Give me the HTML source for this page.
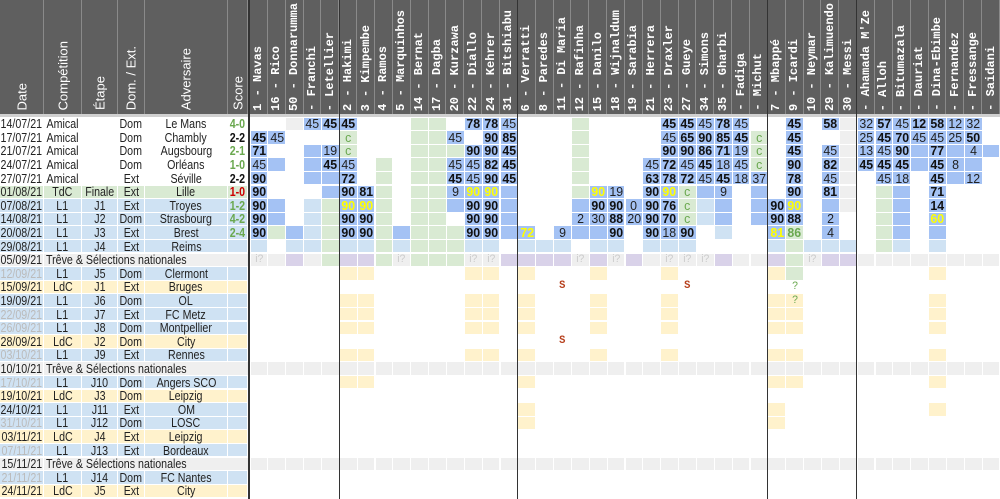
<!DOCTYPE html>
<html><head><meta charset="utf-8"><style>
html,body{margin:0;padding:0;background:#fff;width:1000px;height:499px;overflow:hidden;position:relative;font-family:"Liberation Sans",sans-serif;}
.c{position:absolute;box-sizing:border-box;font-size:13px;line-height:13px;text-align:center;color:#222;white-space:nowrap;overflow:visible;display:flex;align-items:center;justify-content:center;}
.c span{display:inline-block;transform:scaleX(0.82);transform-origin:center;}
.c.p span{transform:scaleX(0.95);}
.c.lft{justify-content:flex-start;}
.c.lft span{transform-origin:left center;}
.h{position:absolute;top:0;height:114px;background:#5f5f5f;box-sizing:border-box;border-right:1px solid #8a8a8a;}
.ht{position:absolute;bottom:4px;left:50%;writing-mode:vertical-rl;transform:translateX(-50%) rotate(180deg);color:#fff;white-space:nowrap;}
.v{position:absolute;top:0;height:499px;background:#333;}
</style></head><body>
<div id="root"></div>
<script>
var R=document.getElementById('root');
function el(cls,st,txt){var d=document.createElement('div');d.className=cls;d.style.cssText=st;if(txt!=null&&txt!==''){var s=document.createElement('span');s.textContent=txt;d.appendChild(s);}R.appendChild(d);return d;}
var LX=[0,44,82,118,145,228,248];
var LH=['Date','Compétition','Étape','Dom. / Ext.','Adversaire','Score'];
for(var i=0;i<6;i++){var h=el('h','left:'+LX[i]+'px;width:'+(LX[i+1]-LX[i])+'px;');var t=document.createElement('div');t.className='ht';t.style.cssText='font-size:13px;font-family:"Liberation Sans",sans-serif;';t.textContent=LH[i];h.appendChild(t);}
el('h','left:248px;width:2px;');
var P=['1 - Navas','16 - Rico','50 - Donnarumma','- Franchi','- Letellier','2 - Hakimi','3 - Kimpembe','4 - Ramos','5 - Marquinhos','14 - Bernat','17 - Dagba','20 - Kurzawa','22 - Diallo','24 - Kehrer','31 - Bitshiabu','6 - Verratti','8 - Paredes','11 - Di Maria','12 - Rafinha','15 - Danilo','18 - Wijnaldum','19 - Sarabia','21 - Herrera','23 - Draxler','27 - Gueye','34 - Simons','35 - Gharbi','- Fadiga','- Michut','7 - Mbappé','9 - Icardi','10 - Neymar','29 - Kalimuendo','30 - Messi','- Ahamada M\'Ze','- Alloh','- Bitumazala','- Dauriat','- Dina-Ebimbe','- Fernandez','- Fressange','- Saidani'];
var CW=750/42;function cx(i){return 250+i*CW;}
for(var i=0;i<42;i++){var h=el('h','left:'+cx(i)+'px;width:'+CW+'px;');var t=document.createElement('div');t.className='ht';t.style.cssText='font-size:12px;font-weight:bold;font-family:"Liberation Mono",monospace;bottom:3px;';t.textContent=P[i];h.appendChild(t);}
el('c','left:0;top:114px;width:1000px;height:3px;background:#d0d0d0;');
var RT=117.5,RH=13.6;
var L=[
['14/07/21','Amical','','Dom','Le Mans','4-0','#6aa84f','W',0],
['17/07/21','Amical','','Dom','Chambly','2-2','#111','W',0],
['21/07/21','Amical','','Dom','Augsbourg','2-1','#6aa84f','W',0],
['24/07/21','Amical','','Dom','Orléans','1-0','#6aa84f','W',0],
['27/07/21','Amical','','Ext','Séville','2-2','#111','W',0],
['01/08/21','TdC','Finale','Ext','Lille','1-0','#cc0000','G',0],
['07/08/21','L1','J1','Ext','Troyes','1-2','#6aa84f','L',0],
['14/08/21','L1','J2','Dom','Strasbourg','4-2','#6aa84f','L',0],
['20/08/21','L1','J3','Ext','Brest','2-4','#6aa84f','L',0],
['29/08/21','L1','J4','Ext','Reims','','','L',0],
['05/09/21','T','','','','','','E',0],
['12/09/21','L1','J5','Dom','Clermont','','','L',1],
['15/09/21','LdC','J1','Ext','Bruges','','','Y',0],
['19/09/21','L1','J6','Dom','OL','','','L',0],
['22/09/21','L1','J7','Ext','FC Metz','','','L',1],
['26/09/21','L1','J8','Dom','Montpellier','','','L',1],
['28/09/21','LdC','J2','Dom','City','','','Y',0],
['03/10/21','L1','J9','Ext','Rennes','','','L',1],
['10/10/21','T','','','','','','E',0],
['17/10/21','L1','J10','Dom','Angers SCO','','','L',1],
['19/10/21','LdC','J3','Dom','Leipzig','','','Y',0],
['24/10/21','L1','J11','Ext','OM','','','L',0],
['31/10/21','L1','J12','Dom','LOSC','','','L',1],
['03/11/21','LdC','J4','Ext','Leipzig','','','Y',0],
['07/11/21','L1','J13','Ext','Bordeaux','','','L',1],
['15/11/21','T','','','','','','E',0],
['21/11/21','L1','J14','Dom','FC Nantes','','','L',1],
['24/11/21','LdC','J5','Ext','City','','','Y',0]];
var BG={W:'#fff',G:'#d9ead3',L:'#cfe2f3',E:'#efefef',Y:'#fff2cc',B:'#a4c2f4',P:'#d9d2e9',C:'#d9ead3',Q:'#d9ead3',S:'#fff'};
for(var r=0;r<L.length;r++){var d=L[r],y=RT+r*RH,bg=BG[d[7]];
 if(d[1]=='T'){el('c','left:0;top:'+y+'px;width:43px;height:'+(RH-1)+'px;background:'+bg,d[0]);
  el('c lft','left:44px;top:'+y+'px;width:204px;height:'+(RH-1)+'px;background:'+bg+';padding-left:2px;','Trêve & Sélections nationales');continue;}
 var vals=[d[0],d[1],d[2],d[3],d[4],d[5]];
 for(var i=0;i<6;i++){var st='left:'+LX[i]+'px;top:'+y+'px;width:'+(LX[i+1]-LX[i]-1)+'px;height:'+(RH-1)+'px;background:'+bg+';';
  if(i==0&&d[8])st+='color:#bbb;';
  if(i==5)st+='font-weight:bold;color:'+d[6]+';';
  el('c',st,vals[i]);}
}
var G=[
'W,W,E,B45,B*45,B*45,W,W,W,G,G,W,B*78,B*78,B45,W,W,W,G,W,W,W,W,B*45,B*45,B45,B*78,B45,W,W,B*45,W,B*58,E,B32,B*57,B45,B*12,B*58,B12,B32,W',
'B*45,B45,W,W,W,C,W,W,W,G,G,B45,W,B*90,B*85,W,W,W,G,W,W,W,W,B45,B*65,B*90,B*85,B*45,C,W,B*45,W,W,E,B25,B*45,B*70,B45,B45,B25,B*50,W',
'B*71,W,W,B,B19,C,W,W,W,G,G,G,B*90,B*90,B*45,W,W,W,G,W,W,W,W,B*90,B*90,B*86,B*71,B19,C,W,B*45,W,B45,E,B13,B45,B*90,B,B*77,B,B4,B',
'B45,B,W,B,B*45,B45,W,G,W,G,G,B45,B45,B*82,B*45,W,W,W,G,W,W,W,B45,B*72,B45,B*45,B18,B45,C,W,B*90,W,B*82,E,B*45,B*45,B*45,B,B*45,B8,B,W',
'B*90,W,W,B,B,B*72,W,G,W,G,G,B*45,B45,B*90,B*45,W,W,W,G,W,W,W,B*63,B*78,B*72,B45,B*45,B18,B37,W,B*78,W,B45,E,W,B45,B18,W,B*45,B,B12,W',
'B*90,W,W,W,B,B*90,B*81,G,W,G,G,B9,B^90,B^90,B,W,W,W,G,B^90,B19,W,B*90,B^90,C,B,B9,W,B,W,B*90,W,B*81,E,W,G,B,W,B*71,W,W,W',
'B*90,B,W,L,G,B^90,B^90,G,W,G,G,B,B*90,B*90,B,W,W,W,B,B*90,B*90,B0,B*90,B*76,C,L,B,W,B,B*90,B^90,W,B,E,W,G,B,W,B*14,W,W,W',
'B*90,B,W,L,G,B*90,B*90,G,W,G,G,W,B*90,B*90,B,W,W,W,B2,B30,B*88,B20,B*90,B*70,C,L,B,W,B,B*90,B*88,W,B2,W,W,G,B,W,B^60,W,W,W',
'B*90,G,B,L,G,B*90,B*90,G,B,G,G,G,B*90,B*90,B,B^72,W,B9,B,B,B*90,W,B*90,B18,B*90,W,L,W,W,B^81,Q86,W,B4,W,W,G,B,W,B,W,W,W',
'L,W,L,L,G,L,L,G,L,G,G,G,L,L,W,L,L,L,W,L,L,W,L,L,L,W,W,W,W,L,G,L,L,L,W,G,L,W,L,W,W,W',
'E~,E,P,E,G,P,P,G,E~,G,G,G,E~,E~,P,P,P,P,E~,P,E~,P,E,E~,E~,E~,P,E,E,P,G,E~,P,P,E,E,E,E,E,E,E,E'];
function blank(){var a=[];for(var i=0;i<42;i++)a.push('W');return a;}
function ys(idx,extra){var a=blank();idx.forEach(function(i){a[i]='Y';});if(extra)for(var k in extra)a[k]=extra[k];return a.join(',');}
var full=[5,6,12,13,15,19,23,29,30,38];
G[11]=ys([5,6,12,13,15,19,23,29,38],{30:'G'});
G[12]=ys([],{17:'SS',24:'SS',30:'W?'});
G[13]=ys(full,{30:'Y?'});
G[14]=ys(full);G[15]=ys(full);
G[16]=ys([],{17:'SS'});
G[17]=ys(full);
var ge=[];for(var i=0;i<42;i++)ge.push('E');ge=ge.join(',');
G[18]=ge;G[19]=ys([5,6,15,29,30,38]);G[20]=ys([]);G[21]=ys([15,29,38]);G[22]=ys([15,29]);G[23]=ys([]);G[24]=ys([]);G[25]=ge;G[26]=ys([]);G[27]=ys([]);
for(var r=0;r<G.length;r++){var toks=G[r].split(','),y=RT+r*RH;
 for(var i=0;i<42;i++){var t=toks[i],ty=t[0],rest=t.slice(1),st='left:'+(cx(i)+0.5)+'px;top:'+y+'px;width:'+(CW-1)+'px;height:'+(RH-1)+'px;background:'+BG[ty]+';',txt=rest;
  if(ty=='W'&&!rest&&r<11)st+='box-shadow:inset 0 0 0 0.5px #f0f0f0;';
  if(ty=='C'){txt='c';st+='color:#6aa84f;';}
  if(ty=='Q'){st+='color:#6aa84f;font-weight:bold;';}
  if(ty=='S'){txt='S';st+='color:#b7411e;font-weight:bold;font-size:11px;font-family:"Liberation Mono",monospace;';}
  if(rest=='?'){st+='color:#6aa84f;font-size:11px;';}
  if(rest=='~'){txt='i?';st+='color:#ccc;font-size:11px;';}
  if(rest[0]=='*'){txt=rest.slice(1);st+='font-weight:bold;color:#111;';}
  if(rest[0]=='^'){txt=rest.slice(1);st+='font-weight:bold;color:#ffff00;';}
  if(txt||ty!='W')el('c p',st,txt);
 }}
el('v','left:248px;width:2px;');
[338.5,517,767,856].forEach(function(x){el('v','left:'+x+'px;width:1px;');});
</script>
</body></html>
